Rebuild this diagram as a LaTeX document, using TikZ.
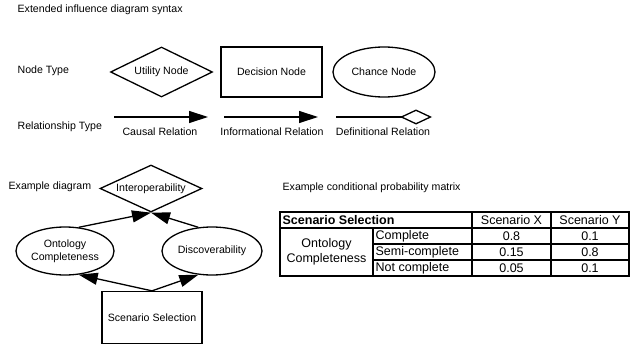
\documentclass[tikz,border=0pt]{standalone}
\usepackage{fontspec}
\setmainfont{Liberation Sans}
\usetikzlibrary{positioning, arrows.meta, shapes.geometric}

\begin{document}
\begin{tikzpicture}[x=1pt, y=-1pt, line width=1.3pt, on grid,
    every node/.style={font=\fontsize{10.6}{12.6}\selectfont},
    sectiontext/.style={anchor=west, inner sep=0pt},
    utility/.style={diamond, draw, shape aspect=2, minimum width=102pt, minimum height=50pt, inner sep=0pt},
    decision/.style={rectangle, draw, minimum width=101pt, minimum height=50pt},
    chance/.style={ellipse, draw, minimum width=102pt, minimum height=50pt, inner sep=0pt, align=center},
    causal/.style={-{Triangle[length=19pt, width=12pt]}},
    definitional/.style={-{Diamond[open, length=32pt, width=15pt]}},
    tabline/.style={line width=1.7pt, line cap=rect},
    cell/.style={font=\fontsize{12.5}{14.5}\selectfont, inner sep=0pt}]
      \useasboundingbox (0,0) rectangle (632,345);

      % syntax
      \node[sectiontext] (title) at (17,10) {Extended influence diagram syntax};
      \node[sectiontext] (nodetype) at (17,71) {Node Type};
      \node[sectiontext] (reltype) at (17,127) {Relationship Type};

      \node[utility] (util) at (161.5,72) {Utility Node};
      \node[decision, right=110pt of util] (dec) {Decision Node};
      \node[chance, right=112.5pt of dec] (chance) {Chance Node};

      \coordinate (c1) at (114,117);
      \coordinate (c2) at (208,117);
      \coordinate (i1) at (224,117);
      \coordinate (i2) at (318,117);
      \coordinate (d1) at (336,117);
      \coordinate (d2) at (432,117);
      \draw[causal] (c1) -- (c2);
      \draw[causal] (i1) -- (i2);
      \draw[definitional] (d1) -- (d2);

      \node (causallbl) at (160,132) {Causal Relation};
      \node (infolbl) at (272,132) {Informational Relation};
      \node (deflbl) at (383,132) {Definitional Relation};

      % example diagram
      \node[sectiontext] (extitle) at (8,187) {Example diagram};
      \node[utility, minimum height=47pt] (interop) at (151,188.5) {Interoperability};
      \node[chance, minimum width=98pt, minimum height=48pt] (ont) at (65,251) {Ontology\\Completeness};
      \node[chance, minimum width=100pt, minimum height=48pt, right=147pt of ont] (disc) {Discoverability};
      \node[decision, minimum width=100pt, minimum height=52pt] (scen) at (152,317.5) {Scenario Selection};

      \draw[causal] (ont.60) -- (interop.south);
      \draw[causal] (disc.120) -- (interop.south);
      \draw[causal] (scen.north) -- (ont.-60);
      \draw[causal] (scen.north) -- (disc.-120);

      % probability matrix
      \node[sectiontext] (mattitle) at (282,188) {Example conditional probability matrix};

      \foreach \y in {212, 228}
      \draw[tabline] (280,\y) -- (629,\y);
      \foreach \y in {244, 260}
      \draw[tabline] (373,\y) -- (629,\y);
      \draw[tabline] (280,276) -- (629,276);
      \foreach \x in {280, 472, 551, 629}
      \draw[tabline] (\x,212) -- (\x,276);
      \draw[tabline] (373,228) -- (373,276);

      \node[cell, anchor=west, font=\fontsize{12.5}{14.5}\selectfont\bfseries] (hdr) at (282,220) {Scenario Selection};
      \node[cell] (hx) at (511.5,220) {Scenario X};
      \node[cell] (hy) at (590,220) {Scenario Y};
      \node[cell, align=center] (oc) at (326.5,252) {Ontology\\Completeness};
      \node[cell, anchor=west] (r1) at (375,236) {Complete};
      \node[cell, anchor=west] (r2) at (375,252) {Semi-complete};
      \node[cell, anchor=west] (r3) at (375,268) {Not complete};
      \node[cell] (x1) at (511.5,236) {0.8};
      \node[cell] (x2) at (511.5,252) {0.15};
      \node[cell] (x3) at (511.5,268) {0.05};
      \node[cell] (y1) at (590,236) {0.1};
      \node[cell] (y2) at (590,252) {0.8};
      \node[cell] (y3) at (590,268) {0.1};
    \end{tikzpicture}
\end{document}
